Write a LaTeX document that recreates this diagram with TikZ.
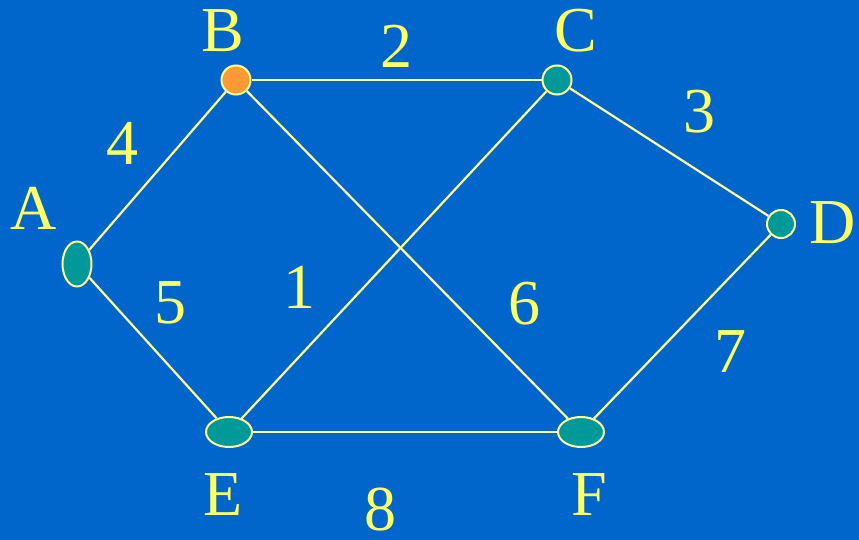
\documentclass[tikz,border=0pt]{standalone}
\usepackage{fontspec}
\setmainfont{Liberation Serif}
\usepackage{xcolor}
\usetikzlibrary{shapes.geometric}
\definecolor{bgblue}{HTML}{0066CC}
\definecolor{vteal}{HTML}{009999}
\definecolor{vorange}{HTML}{FF9933}
\definecolor{labyellow}{HTML}{FFFF66}
\definecolor{edgeyellow}{HTML}{FFFF99}

\begin{document}
\begin{tikzpicture}[x=1pt,y=-1pt,
  vtx/.style={ellipse,draw=edgeyellow,line width=2pt,fill=vteal,inner sep=0pt},
  edge/.style={draw=edgeyellow,line width=2.2pt},
  lab/.style={text=labyellow,inner sep=0pt,font=\fontsize{64}{64}\selectfont}]
  \fill[bgblue] (0,0) rectangle (859,540);
  \useasboundingbox (0,0) rectangle (859,540);
  % vertices
  \node[vtx,minimum width=29pt,minimum height=45pt] (a) at (77,264) {};
  \node[vtx,fill=vorange,minimum width=29pt,minimum height=29pt] (b) at (236,80) {};
  \node[vtx,minimum width=29pt,minimum height=29pt] (c) at (557,80) {};
  \node[vtx,minimum width=28pt,minimum height=28pt] (d) at (781,224) {};
  \node[vtx,minimum width=46pt,minimum height=30pt] (e) at (229,432) {};
  \node[vtx,minimum width=46pt,minimum height=30pt] (f) at (581,432) {};
  % edges
  \foreach \u/\v in {a/b,a/e,b/c,b/f,c/e,c/d,d/f,e/f}
    \path[edge] (\u) -- (\v);
  % vertex names
  \foreach \x/\y/\n/\t in {34/208/la/A,223/31/lb/B,576/31/lc/C,833/223/ld/D,223/495/le/E,589/495/lf/F}
    \node[lab] (\n) at (\x,\y) {\t};
  % weights
  \foreach \x/\y/\n/\t in {122/143/w4/4,396/46/w2/2,699/112/w3/3,170/303/w5/5,299/287/w1/1,524/304/w6/6,730/352/w7/7,380/510/w8/8}
    \node[lab] (\n) at (\x,\y) {\t};
\end{tikzpicture}
\end{document}
